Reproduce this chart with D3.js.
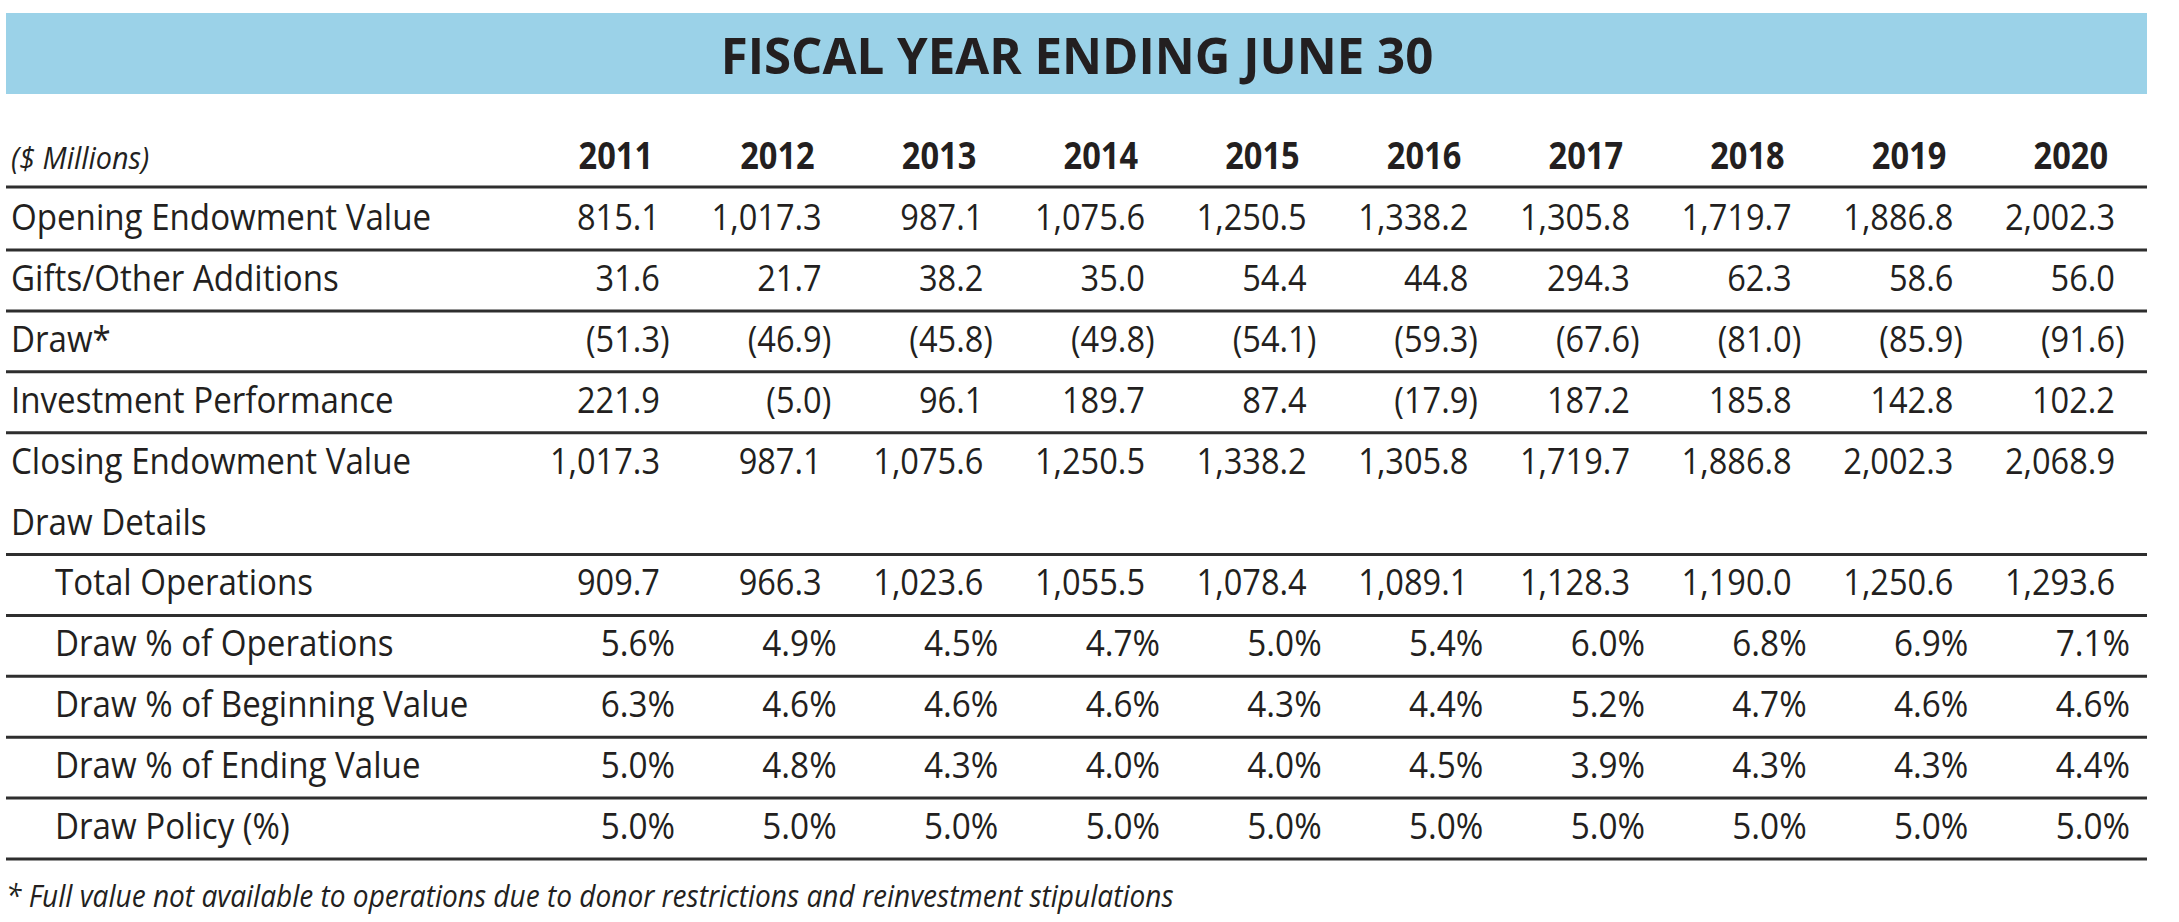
<!DOCTYPE html>
<html>
<head>
<meta charset="utf-8">
<script src="https://cdn.jsdelivr.net/npm/d3@7"></script>
<style>
  html, body { margin: 0; padding: 0; background: #ffffff; }
  svg { display: block; }
  text { font-family: "Open Sans", "Noto Sans", sans-serif; fill: #231f20; }
</style>
</head>
<body>
<svg id="chart" width="2179" height="922"></svg>
<script>
// ---------- data ----------
const title = "FISCAL YEAR ENDING JUNE 30";
const unitsLabel = "($ Millions)";
const years = ["2011","2012","2013","2014","2015","2016","2017","2018","2019","2020"];

const rowLabels = [
  "Opening Endowment Value",
  "Gifts/Other Additions",
  "Draw*",
  "Investment Performance",
  "Closing Endowment Value",
  "Draw Details",
  "Total Operations",
  "Draw % of Operations",
  "Draw % of Beginning Value",
  "Draw % of Ending Value",
  "Draw Policy (%)"
];

const openingValue   = [815.1, 1017.3, 987.1, 1075.6, 1250.5, 1338.2, 1305.8, 1719.7, 1886.8, 2002.3];
const giftsAdditions = [31.6, 21.7, 38.2, 35.0, 54.4, 44.8, 294.3, 62.3, 58.6, 56.0];
const drawValues     = [-51.3, -46.9, -45.8, -49.8, -54.1, -59.3, -67.6, -81.0, -85.9, -91.6];
const investmentPerf = [221.9, -5.0, 96.1, 189.7, 87.4, -17.9, 187.2, 185.8, 142.8, 102.2];
const closingValue   = [1017.3, 987.1, 1075.6, 1250.5, 1338.2, 1305.8, 1719.7, 1886.8, 2002.3, 2068.9];
const totalOperations= [909.7, 966.3, 1023.6, 1055.5, 1078.4, 1089.1, 1128.3, 1190.0, 1250.6, 1293.6];
const drawPctOps     = [5.6, 4.9, 4.5, 4.7, 5.0, 5.4, 6.0, 6.8, 6.9, 7.1];
const drawPctBegin   = [6.3, 4.6, 4.6, 4.6, 4.3, 4.4, 5.2, 4.7, 4.6, 4.6];
const drawPctEnd     = [5.0, 4.8, 4.3, 4.0, 4.0, 4.5, 3.9, 4.3, 4.3, 4.4];
const drawPolicy     = [5.0, 5.0, 5.0, 5.0, 5.0, 5.0, 5.0, 5.0, 5.0, 5.0];

const footnote = "* Full value not available to operations due to donor restrictions and reinvestment stipulations";

const rows = [
  {label: rowLabels[0],  values: openingValue,    kind: "num", indent: false, rule: true},
  {label: rowLabels[1],  values: giftsAdditions,  kind: "num", indent: false, rule: true},
  {label: rowLabels[2],  values: drawValues,      kind: "num", indent: false, rule: true},
  {label: rowLabels[3],  values: investmentPerf,  kind: "num", indent: false, rule: true},
  {label: rowLabels[4],  values: closingValue,    kind: "num", indent: false, rule: false},
  {label: rowLabels[5],  values: null,            kind: "none", indent: false, rule: true},
  {label: rowLabels[6],  values: totalOperations, kind: "num", indent: true, rule: true},
  {label: rowLabels[7],  values: drawPctOps,      kind: "pct", indent: true, rule: true},
  {label: rowLabels[8],  values: drawPctBegin,    kind: "pct", indent: true, rule: true},
  {label: rowLabels[9],  values: drawPctEnd,      kind: "pct", indent: true, rule: true},
  {label: rowLabels[10], values: drawPolicy,      kind: "pct", indent: true, rule: true}
];

// ---------- layout ----------
const svg = d3.select("#chart");
const left = 6, right = 2147;
const SX = 0.88;           // horizontal condensing of body text
const bodySize = 37;

const x = d3.scalePoint().domain(years).range([660, 2115]);
const y = d3.scaleLinear().domain([0, rows.length - 1]).range([230, 839]);

const fmt = d3.format(",.1f");

function addText(g, str, tx, ty, opts) {
  return g.append("text")
    .attr("transform", `translate(${tx},${ty}) scale(${opts.sx || SX},1)`)
    .attr("text-anchor", opts.anchor || "start")
    .style("font-size", (opts.size || bodySize) + "px")
    .style("font-weight", opts.weight || 400)
    .style("font-style", opts.style || "normal")
    .text(str);
}

// banner
svg.append("rect")
  .attr("x", left).attr("y", 13)
  .attr("width", right - left).attr("height", 81)
  .attr("fill", "#9bd2e8");

addText(svg, title, 1077, 74, {anchor: "middle", size: 51, weight: 700, sx: 0.965});

// header
const header = svg.append("g");
addText(header, unitsLabel, 11, 169, {size: 31, style: "italic", sx: 0.93});
years.forEach(yr => {
  addText(header, yr, x(yr) - 7, 169, {anchor: "end", weight: 700});
});

const rulesG = svg.append("g");
const rule = yy => rulesG.append("line")
  .attr("x1", left).attr("x2", right)
  .attr("y1", yy).attr("y2", yy)
  .attr("stroke", "#2e2e2e").attr("stroke-width", 3);

rule(187);

// body
const body = svg.append("g");
rows.forEach((r, i) => {
  const by = y(i);
  addText(body, r.label, r.indent ? 55 : 11, by, {sx: 0.895});
  if (r.values) {
    r.values.forEach((v, j) => {
      const cx = x(years[j]);
      if (r.kind === "pct") {
        addText(body, v.toFixed(1) + "%", cx + 15, by, {anchor: "end", sx: 0.9});
      } else if (v < 0) {
        addText(body, "(" + fmt(-v), cx, by, {anchor: "end"});
        addText(body, ")", cx, by, {anchor: "start"});
      } else {
        addText(body, fmt(v), cx, by, {anchor: "end"});
      }
    });
  }
  if (r.rule) rule(by + 20);
});

// footnote
addText(svg, footnote, 6, 907, {size: 31, style: "italic", sx: 0.905});
</script>
</body>
</html>
